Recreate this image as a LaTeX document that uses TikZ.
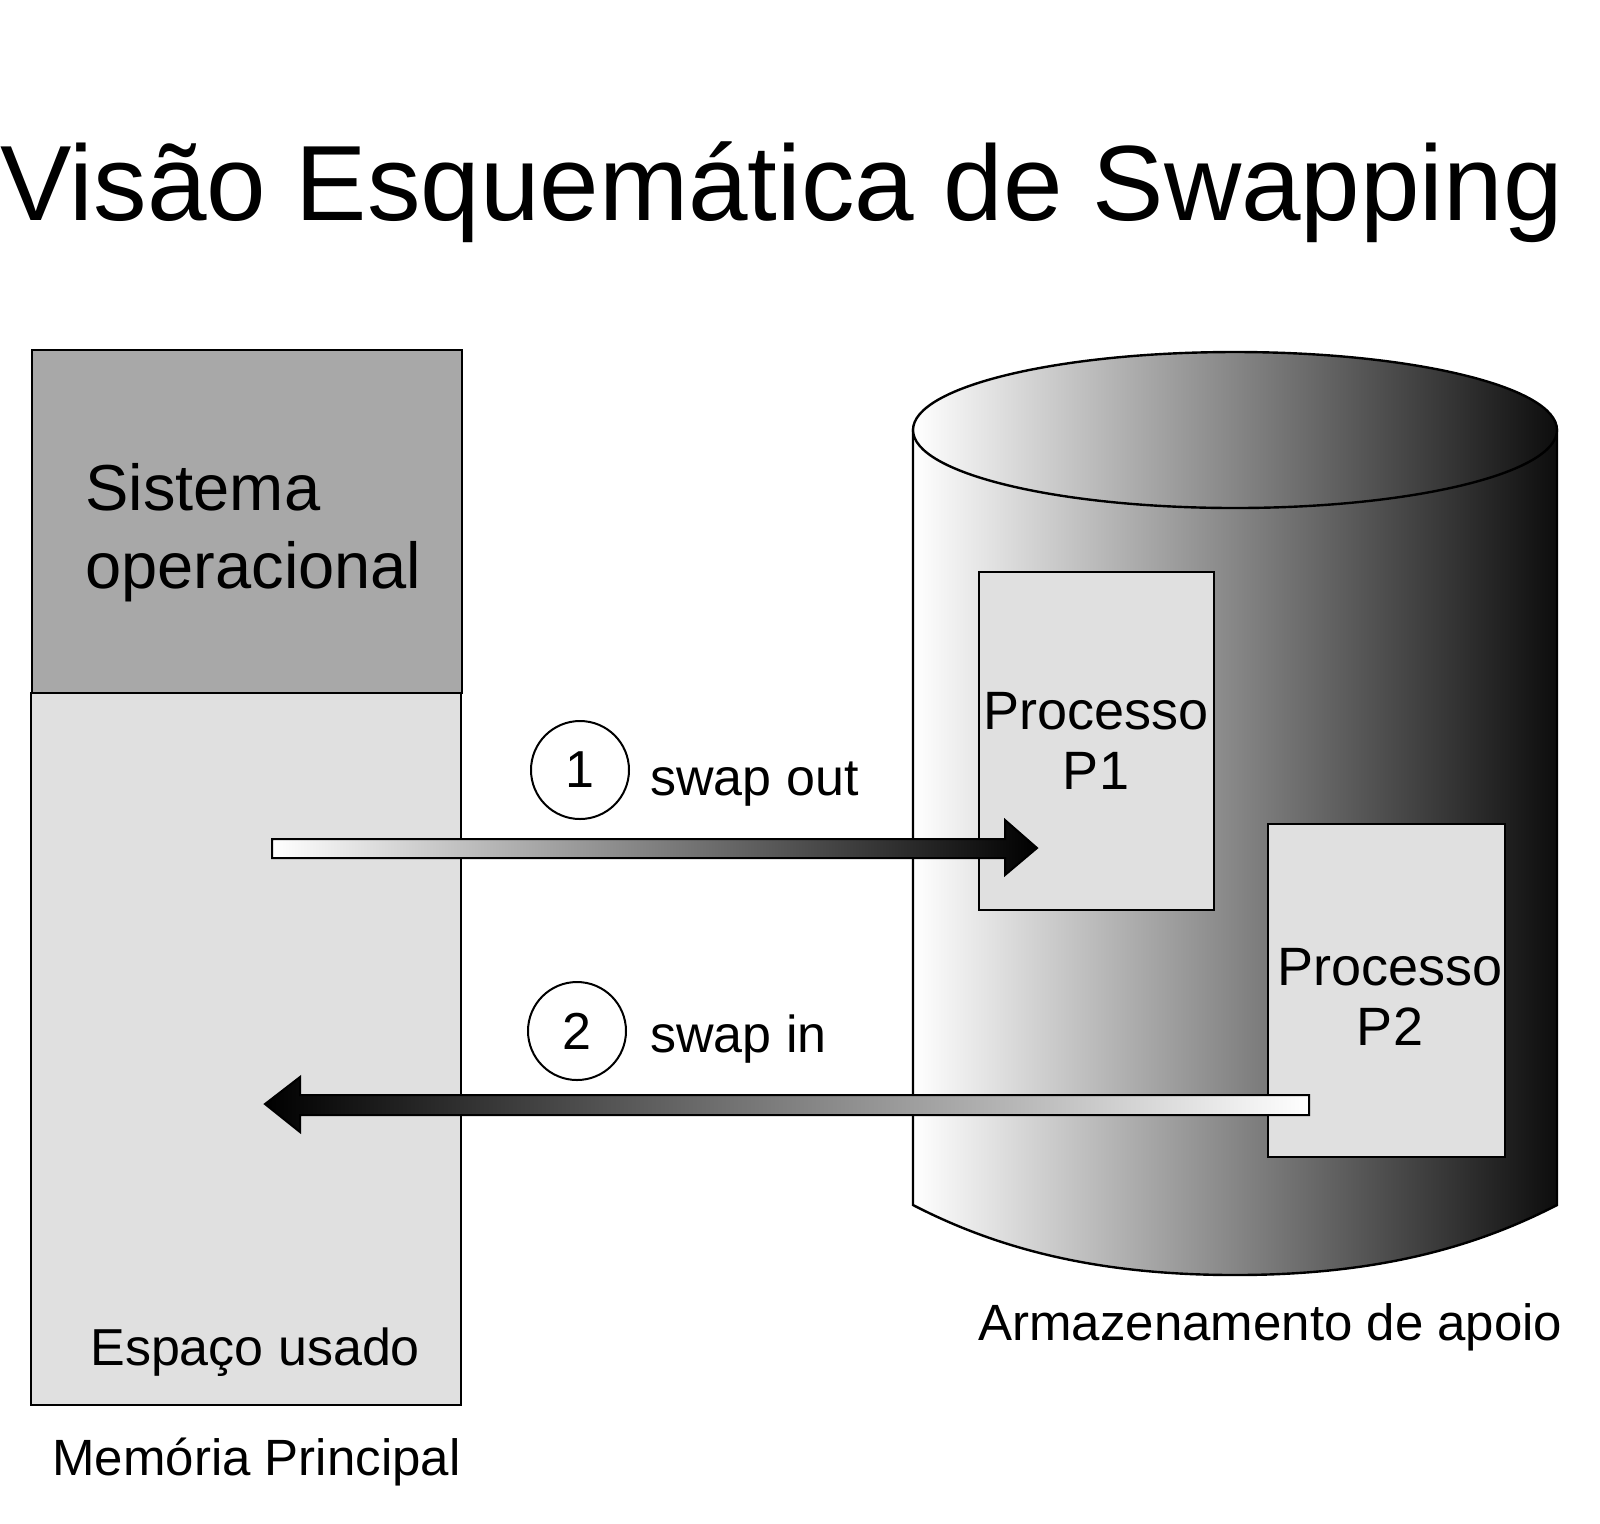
\documentclass[tikz,border=0pt]{standalone}
\usepackage{fontspec}
\setmainfont{Liberation Sans}
\begin{document}
\begin{tikzpicture}[x=0.5pt,y=-0.5pt,
  lbl/.style={inner sep=0pt,anchor=base west},
  box/.style={draw=black,line width=1.2pt,fill=black!12},
  cyl/.style={left color=white,right color=black!95,draw=black,line width=1.2pt},
  num/.style={draw=black,line width=1pt,circle,minimum size=49pt,inner sep=0pt,font=\fontsize{26}{30}\selectfont}]
\useasboundingbox (0,0) rectangle (1600,1523);
\node[lbl,font=\fontsize{53.5}{60}\selectfont] (title) at (0,220) {Visão Esquemática de Swapping};
% memory
\draw[box,fill=black!34] (32,350) rectangle (462,693);
\draw[box] (31,693) rectangle (461,1405);
\node[lbl,font=\fontsize{32.5}{38}\selectfont] (so1) at (85,510) {Sistema};
\node[lbl,font=\fontsize{32.5}{38}\selectfont] (so2) at (85,588) {operacional};
\node[lbl,font=\fontsize{26}{32}\selectfont] (esp) at (90,1365) {Espaço usado};
\node[lbl,font=\fontsize{25.5}{30}\selectfont] (mem) at (52,1475) {Memória Principal};
% cylinder
\shade[cyl]
  (913,430) -- (913,1205) .. controls (1000,1250) and (1100,1275) .. (1235,1275)
  .. controls (1370,1275) and (1470,1250) .. (1557,1205) -- (1557,430) -- cycle;
\shade[cyl] (1235,430) ellipse [x radius=322, y radius=78];
\node[lbl,font=\fontsize{25.5}{30}\selectfont] (arm) at (978,1340) {Armazenamento de apoio};
% processes
\draw[box] (979,572) rectangle (1214,910);
\node[font=\fontsize{27}{32}\selectfont,align=center,inner sep=0pt] (p1) at (1096,741) {Processo\\[-2pt]P1};
\draw[box] (1268,824) rectangle (1505,1157);
\node[font=\fontsize{27}{32}\selectfont,align=center,inner sep=0pt] (p2) at (1390,997) {Processo\\[-2pt]P2};
% arrows
\shade[left color=white,right color=black,draw=black,line width=1pt]
  (272,839) -- (1005,839) -- (1005,820) -- (1037,848) -- (1005,875) -- (1005,858) -- (272,858) -- cycle;
\shade[left color=black,right color=white,draw=black,line width=1pt]
  (1309,1095) -- (300,1095) -- (300,1077) -- (265,1104) -- (300,1132) -- (300,1115) -- (1309,1115) -- cycle;
\node[num,fill=white] (c1) at (580,770) {1};
\node[lbl,font=\fontsize{26}{30}\selectfont] (so) at (650,795) {swap out};
\node[num,fill=white] (c2) at (577,1031) {2};
\node[lbl,font=\fontsize{26}{30}\selectfont] (si) at (650,1052) {swap in};
\end{tikzpicture}
\end{document}
